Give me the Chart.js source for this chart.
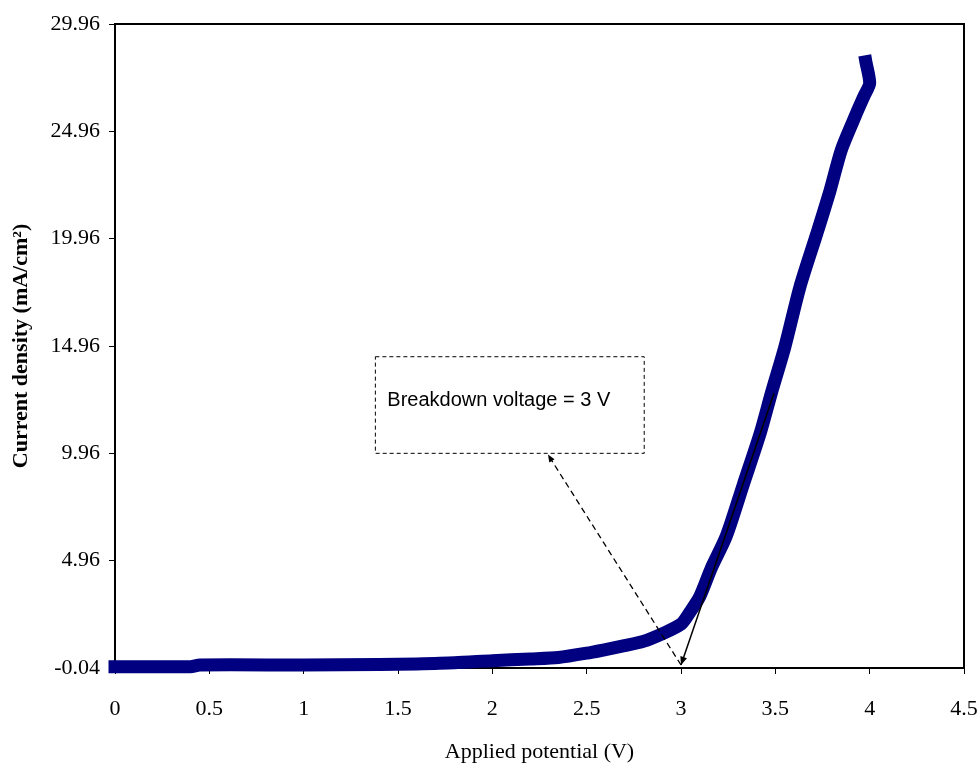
<!DOCTYPE html>
<html>
<head>
<meta charset="utf-8">
<script src="https://cdn.jsdelivr.net/npm/chart.js@4.4.0/dist/chart.umd.min.js"></script>
<style>
  html, body { margin: 0; padding: 0; background: #fff; }
  #wrap { width: 979px; height: 767px; }
</style>
</head>
<body>
<div id="wrap"><canvas id="ivChart"></canvas></div>
<script>
// values
var potential = [0, 0.4, 0.45, 1.0, 1.4, 1.6, 1.8, 2.0, 2.2, 2.35, 2.5, 2.6, 2.7, 2.8, 2.9, 3.0, 3.05, 3.1, 3.16, 3.24, 3.33, 3.42, 3.48, 3.55, 3.63, 3.72, 3.79, 3.85, 3.93, 3.97, 4.0, 3.98];
var currentDensity = [0.02, 0.02, 0.1, 0.1, 0.12, 0.15, 0.2, 0.3, 0.38, 0.45, 0.65, 0.82, 1.0, 1.2, 1.55, 2.0, 2.6, 3.3, 4.6, 6.1, 8.5, 10.9, 12.8, 14.9, 17.7, 20.2, 22.2, 24.1, 25.8, 26.6, 27.2, 28.2];

var xTicks = [0, 0.5, 1, 1.5, 2, 2.5, 3, 3.5, 4, 4.5];
var xTickLabels = ['0', '0.5', '1', '1.5', '2', '2.5', '3', '3.5', '4', '4.5'];
var yTicks = [-0.04, 4.96, 9.96, 14.96, 19.96, 24.96, 29.96];
var yTickLabels = ['-0.04', '4.96', '9.96', '14.96', '19.96', '24.96', '29.96'];

var noteText = 'Breakdown voltage = 3 V';

var points = potential.map(function (v, i) {
    return { x: v, y: currentDensity[i] };
});

function arrowHead(ctx, x1, y1, x2, y2, size) {
    var a = Math.atan2(y2 - y1, x2 - x1);
    ctx.beginPath();
    ctx.moveTo(x2, y2);
    ctx.lineTo(x2 - size * Math.cos(a - 0.4), y2 - size * Math.sin(a - 0.4));
    ctx.lineTo(x2 - size * Math.cos(a + 0.4), y2 - size * Math.sin(a + 0.4));
    ctx.closePath();
    ctx.fill();
}

var framePlugin = {
    id: 'frame',
    beforeDatasetsDraw: function (chart) {
        var a = chart.chartArea, ctx = chart.ctx;
        ctx.save();
        ctx.strokeStyle = '#000';
        ctx.lineWidth = 2;
        ctx.strokeRect(a.left, a.top, a.right - a.left, a.bottom - a.top);
        ctx.restore();
    },
    afterDatasetsDraw: function (chart) {
        var ctx = chart.ctx, xs = chart.scales.x, ys = chart.scales.y;
        var px = function (v) { return xs.getPixelForValue(v); };
        var py = function (v) { return ys.getPixelForValue(v); };
        ctx.save();
        // dashed note box
        var bx1 = px(1.38), bx2 = px(2.805), by1 = py(14.46), by2 = py(9.96);
        ctx.strokeStyle = '#000';
        ctx.lineWidth = 1;
        ctx.setLineDash([4, 3]);
        ctx.strokeRect(bx1, by1, bx2 - bx1, by2 - by1);
        ctx.setLineDash([]);
        ctx.fillStyle = '#000';
        ctx.font = '20px "Liberation Sans", Arial, sans-serif';
        ctx.textBaseline = 'alphabetic';
        ctx.fillText(noteText, bx1 + 12, by1 + 49);
        // dashed arrow from x = 3 towards the box
        var sx = px(3.0), sy = py(0.1), ex = px(2.295), ey = py(9.9);
        ctx.lineWidth = 1.3;
        ctx.setLineDash([6, 4]);
        ctx.beginPath();
        ctx.moveTo(sx, sy);
        ctx.lineTo(ex, ey);
        ctx.stroke();
        ctx.setLineDash([]);
        arrowHead(ctx, sx, sy, ex, ey, 8);
        // solid tangent arrow
        var tx = px(3.493), ty = py(12.76);
        ctx.lineWidth = 1.5;
        ctx.beginPath();
        ctx.moveTo(tx, ty);
        ctx.lineTo(sx, sy);
        ctx.stroke();
        arrowHead(ctx, tx, ty, sx, sy, 9);
        ctx.restore();
    }
};

var serif = '"Liberation Serif", "Times New Roman", serif';

var ctx = document.getElementById('ivChart').getContext('2d');
var ivChart = new Chart(ctx, {
    type: 'scatter',
    data: {
        datasets: [{
            data: points,
            showLine: true,
            borderColor: '#000080',
            backgroundColor: '#000080',
            borderWidth: 13,
            borderCapStyle: 'square',
            borderJoinStyle: 'round',
            pointRadius: 0,
            tension: 0.25,
            clip: false
        }]
    },
    options: {
        responsive: true,
        maintainAspectRatio: false,
        animation: false,
        layout: { padding: { top: 24, right: 0, left: 0, bottom: 0 } },
        plugins: {
            legend: { display: false },
            tooltip: { enabled: false }
        },
        scales: {
            x: {
                type: 'linear',
                min: 0,
                max: 4.5,
                afterBuildTicks: function (scale) {
                    scale.ticks = xTicks.map(function (v) { return { value: v }; });
                },
                afterFit: function (scale) {
                    scale.height = 99;
                    scale.paddingLeft = 0;
                    scale.paddingRight = 15;
                },
                ticks: {
                    color: '#000',
                    font: { family: serif, size: 22 },
                    padding: 22,
                    maxRotation: 0,
                    callback: function (v) { return xTickLabels[xTicks.indexOf(v)]; }
                },
                grid: { drawOnChartArea: false, drawTicks: true, tickLength: 6, color: '#000' },
                border: { display: true, color: '#000', width: 2 },
                title: {
                    display: true,
                    text: 'Applied potential (V)',
                    color: '#000',
                    font: { family: serif, size: 22 },
                    padding: { top: 0, bottom: 2 }
                }
            },
            y: {
                type: 'linear',
                min: -0.04,
                max: 29.96,
                afterBuildTicks: function (scale) {
                    scale.ticks = yTicks.map(function (v) { return { value: v }; });
                },
                afterFit: function (scale) { scale.width = 115; },
                ticks: {
                    color: '#000',
                    font: { family: serif, size: 22 },
                    padding: 9,
                    callback: function (v) { return yTickLabels[yTicks.indexOf(v)]; }
                },
                grid: { drawOnChartArea: false, drawTicks: true, tickLength: 6, color: '#000' },
                border: { display: true, color: '#000', width: 2 },
                title: {
                    display: true,
                    text: 'Current density (mA/cm²)',
                    color: '#000',
                    font: { family: serif, size: 22, weight: 'bold' },
                    padding: { top: 8, bottom: 0 }
                }
            }
        }
    },
    plugins: [framePlugin]
});
</script>
</body>
</html>
